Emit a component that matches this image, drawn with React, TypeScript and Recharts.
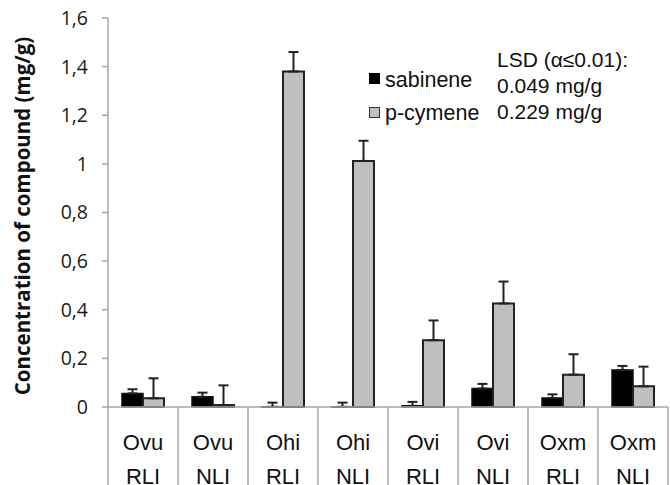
import React from 'react';
import { BarChart, Bar, XAxis, YAxis, ErrorBar, Legend } from 'recharts';

const species = ['Ovu', 'Ovu', 'Ohi', 'Ohi', 'Ovi', 'Ovi', 'Oxm', 'Oxm'];
const lightRegime = ['RLI', 'NLI', 'RLI', 'NLI', 'RLI', 'NLI', 'RLI', 'NLI'];

const sabinene = [0.056, 0.042, 0.001, 0.001, 0.005, 0.076, 0.037, 0.152];
const sabineneErr = [0.017, 0.017, 0.017, 0.017, 0.016, 0.019, 0.015, 0.017];
const pCymene = [0.036, 0.008, 1.38, 1.012, 0.275, 0.426, 0.133, 0.085];
const pCymeneErr = [0.082, 0.081, 0.08, 0.083, 0.081, 0.09, 0.084, 0.081];

const yTicks = [0, 0.2, 0.4, 0.6, 0.8, 1, 1.2, 1.4, 1.6];
const lsdLines = ['LSD (α≤0.01):', '0.049 mg/g', '0.229 mg/g'];

const W = 670;
const H = 485;
const MARGIN = { top: 18, right: 2, bottom: 0, left: 48 };
const Y_AXIS_W = 60;
const X_AXIS_H = 78;
const BAND = (W - MARGIN.left - MARGIN.right - Y_AXIS_W) / species.length;

// errors are drawn upward only: [below, above]
const data = species.map((s, i) => ({
  name: `${s} ${lightRegime[i]}`,
  sabinene: sabinene[i],
  sabineneErr: [0, sabineneErr[i]],
  pCymene: pCymene[i],
  pCymeneErr: [0, pCymeneErr[i]],
}));

const GRID = '#a6a6a6';
const ARIAL = '"Liberation Sans", Arial, sans-serif';

const CategoryTick = (props: any) => {
  const { x, y, index } = props;
  const half = BAND / 2;
  const textStyle = { fontFamily: ARIAL, fontSize: 22, fill: '#111' };
  return (
    <g>
      {index === 0 && <line x1={x - half} y1={y} x2={x - half} y2={H} stroke={GRID} strokeWidth={1.5} />}
      <line x1={x + half} y1={y} x2={x + half} y2={H} stroke={GRID} strokeWidth={1.5} />
      <text x={x} y={y + 42.5} textAnchor="middle" style={textStyle}>{species[index]}</text>
      <text x={x} y={y + 77} textAnchor="middle" style={textStyle}>{lightRegime[index]}</text>
    </g>
  );
};

const legendItems = [
  { label: 'sabinene', fill: '#000', stroke: '#000', top: 73, text: 88 },
  { label: 'p-cymene', fill: '#bfbfbf', stroke: '#333', top: 107, text: 121 },
];

const LegendBox = () => (
  <div style={{ position: 'relative', width: 120, height: 60 }}>
    {legendItems.map((it) => (
      <React.Fragment key={it.label}>
        <div
          style={{
            position: 'absolute', left: 0, top: it.top - 66, width: 9, height: 9,
            background: it.fill, border: `1px solid ${it.stroke}`,
          }}
        />
        <div
          style={{
            position: 'absolute', left: 16, top: it.text - 66 - 20, fontFamily: ARIAL,
            fontSize: 21.5, lineHeight: '24px', color: '#111', whiteSpace: 'nowrap',
          }}
        >
          {it.label}
        </div>
      </React.Fragment>
    ))}
  </div>
);

export default function App() {
  return (
    <div style={{ position: 'absolute', left: 0, top: 0, width: W, height: H, background: '#fff' }}>
      <BarChart width={W} height={H} data={data} margin={MARGIN} barGap={0} barSize={21}>
        <XAxis
          dataKey="name"
          height={X_AXIS_H}
          axisLine={{ stroke: GRID, strokeWidth: 1.5 }}
          tickLine={false}
          tickSize={0}
          tickMargin={0}
          interval={0}
          tick={<CategoryTick />}
        />
        <YAxis
          width={Y_AXIS_W}
          domain={[0, 1.6]}
          ticks={yTicks}
          axisLine={{ stroke: GRID, strokeWidth: 1.5 }}
          tickLine={{ stroke: GRID, strokeWidth: 1.5 }}
          tickSize={6}
          tickMargin={14}
          tickFormatter={(v: number) => String(v).replace('.', ',')}
          tick={{ fontFamily: '"Open Sans", sans-serif', fontSize: 19.5, fill: '#1a1a1a' }}
        />
        <Legend
          layout="vertical"
          align="center"
          verticalAlign="middle"
          wrapperStyle={{ position: 'absolute', left: 369, top: 66, width: 120 }}
          content={<LegendBox />}
        />
        <Bar dataKey="sabinene" fill="#000" stroke="#111" strokeWidth={1.5} isAnimationActive={false}>
          <ErrorBar dataKey="sabineneErr" width={5} stroke="#222" strokeWidth={2} direction="y" />
        </Bar>
        <Bar dataKey="pCymene" fill="#bfbfbf" stroke="#222" strokeWidth={2} isAnimationActive={false}>
          <ErrorBar dataKey="pCymeneErr" width={5} stroke="#222" strokeWidth={2} direction="y" />
        </Bar>
      </BarChart>
      <div
        style={{
          position: 'absolute', left: 22, top: 216, transform: 'translate(-50%, -50%) rotate(-90deg)',
          fontFamily: '"Open Sans", sans-serif', fontWeight: 700, fontSize: 20.5, color: '#111',
          whiteSpace: 'nowrap',
        }}
      >
        Concentration of compound (mg/g)
      </div>
      <div style={{ position: 'absolute', left: 497, top: 47 }}>
        {lsdLines.map((l) => (
          <div
            key={l}
            style={{ fontFamily: ARIAL, fontSize: 21, lineHeight: '26px', color: '#111', whiteSpace: 'nowrap' }}
          >
            {l}
          </div>
        ))}
      </div>
    </div>
  );
}
